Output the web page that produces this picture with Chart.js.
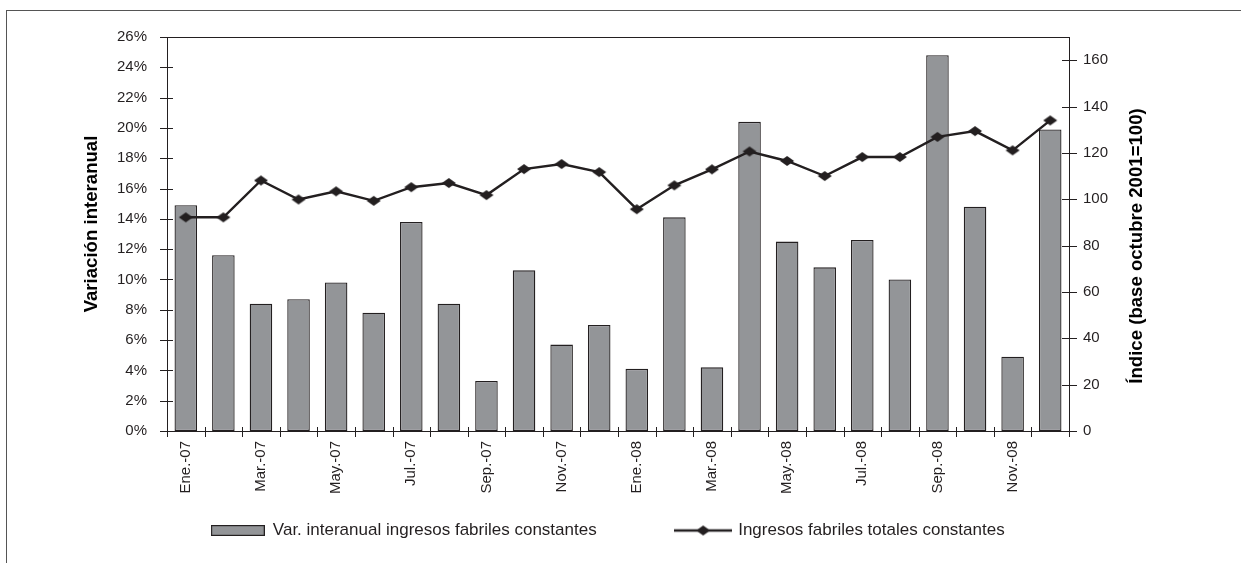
<!DOCTYPE html>
<html>
<head>
<meta charset="utf-8">
<script src="https://cdn.jsdelivr.net/npm/chart.js@4.4.1/dist/chart.umd.min.js"></script>
<style>
  html, body { margin: 0; padding: 0; background: #fff; }
  #frame { position: absolute; left: 6px; top: 10px; right: 0; bottom: 0; border-top: 1px solid #555; border-left: 1px solid #555; }
  #chart { position: absolute; left: 0; top: 0; }
</style>
</head>
<body>
<div id="frame"></div>
<canvas id="chart" width="1241" height="563"></canvas>
<script>
const months = ['Ene.', 'Feb.', 'Mar.', 'Abr.', 'May.', 'Jun.', 'Jul.', 'Ago.', 'Sep.', 'Oct.', 'Nov.', 'Dic.'];
const labels = [...months.map(m => m + '-07'), ...months.map(m => m + '-08')];

// variación interanual (%), eje izquierdo
const varInteranual = [14.9, 11.6, 8.4, 8.7, 9.8, 7.8, 13.8, 8.4, 3.3, 10.6, 5.7, 7.0,
                       4.1, 14.1, 4.2, 20.4, 12.5, 10.8, 12.6, 10.0, 24.8, 14.8, 4.9, 19.9];
// índice base octubre 2001 = 100, eje derecho
const indice = [92.2, 92.2, 108.1, 99.9, 103.4, 99.3, 105.2, 107.0, 101.8, 113.0, 115.2, 111.7,
                95.7, 106.0, 112.9, 120.6, 116.5, 110.0, 118.2, 118.2, 126.9, 129.4, 121.1, 134.0];

const leftTicks = { min: 0, max: 26, step: 2 };
const rightTicks = { min: 0, max: 170, step: 20, lastShown: 160 };

const leftTitle = 'Variación interanual';
const rightTitle = 'Índice (base octubre 2001=100)';
const barLabel = 'Var. interanual ingresos fabriles constantes';
const lineLabel = 'Ingresos fabriles totales constantes';

const ink = '#231f20';
const barGray = '#939598';
const fontFamily = '"Liberation Sans", Arial, sans-serif';

function makeCanvas(w, h, draw) {
  const c = document.createElement('canvas');
  c.width = w; c.height = h;
  draw(c.getContext('2d'), w, h);
  return c;
}

function diamond(ctx, cx, cy, hw, hh) {
  ctx.beginPath();
  ctx.moveTo(cx - hw, cy);
  ctx.lineTo(cx, cy - hh);
  ctx.lineTo(cx + hw, cy);
  ctx.lineTo(cx, cy + hh);
  ctx.closePath();
  ctx.fill();
}

const marker = makeCanvas(16, 12, (ctx, w, h) => {
  ctx.fillStyle = ink;
  diamond(ctx, w / 2, h / 2, 7, 5);
});

const barSwatch = makeCanvas(54, 11, (ctx, w, h) => {
  ctx.fillStyle = barGray;
  ctx.strokeStyle = ink;
  ctx.lineWidth = 1.2;
  ctx.fillRect(0.6, 0.6, w - 1.2, h - 1.2);
  ctx.strokeRect(0.6, 0.6, w - 1.2, h - 1.2);
});

const lineSwatch = makeCanvas(58, 12, (ctx, w, h) => {
  ctx.strokeStyle = ink;
  ctx.lineWidth = 2.4;
  ctx.beginPath();
  ctx.moveTo(0, h / 2);
  ctx.lineTo(w, h / 2);
  ctx.stroke();
  ctx.fillStyle = ink;
  diamond(ctx, w / 2, h / 2, 7, 5);
});

function drawVertical(ctx, text, x, y) {
  ctx.save();
  ctx.translate(x, y);
  ctx.rotate(-Math.PI / 2);
  ctx.fillText(text, 0, 0);
  ctx.restore();
}

const axisMarks = {
  id: 'axisMarks',
  afterLayout(chart) {
    // dejar espacio a las etiquetas giradas del eje x (el recorte usa el alto del eje)
    chart.scales.x.bottom += 80;
  },
  afterDraw(chart) {
    const { ctx, chartArea: a, scales } = chart;
    ctx.save();
    ctx.strokeStyle = ink;
    ctx.lineWidth = 1;
    ctx.beginPath();
    ctx.moveTo(a.left, Math.round(a.top) + 0.5);
    ctx.lineTo(a.right, Math.round(a.top) + 0.5);
    scales.y.ticks.forEach((t, i) => {
      const y = Math.round(scales.y.getPixelForTick(i)) + 0.5;
      ctx.moveTo(a.left - 7, y);
      ctx.lineTo(a.left + 6, y);
    });
    scales.y1.ticks.forEach((t, i) => {
      const y = Math.round(scales.y1.getPixelForTick(i)) + 0.5;
      ctx.moveTo(a.right - 7, y);
      ctx.lineTo(a.right + 8, y);
    });
    for (let i = 0; i <= labels.length; i++) {
      const x = Math.round(scales.x.getPixelForValue(i - 0.5)) + 0.5;
      ctx.moveTo(x, a.bottom - 4);
      ctx.lineTo(x, a.bottom + 6);
    }
    ctx.stroke();

    ctx.fillStyle = '#000';
    ctx.font = 'bold 18.6px ' + fontFamily;
    ctx.textAlign = 'center';
    ctx.textBaseline = 'middle';
    const mid = (a.top + a.bottom) / 2;
    drawVertical(ctx, leftTitle, a.left - 75, mid - 10);
    drawVertical(ctx, rightTitle, a.right + 68, mid + 12);
    ctx.restore();
  }
};

new Chart(document.getElementById('chart'), {
  data: {
    labels: labels,
    datasets: [
      {
        type: 'bar',
        label: barLabel,
        data: varInteranual,
        yAxisID: 'y',
        backgroundColor: barGray,
        borderColor: ink,
        borderWidth: 1.3,
        borderSkipped: false,
        barPercentage: 0.6,
        categoryPercentage: 1,
        order: 2
      },
      {
        type: 'line',
        label: lineLabel,
        data: indice,
        yAxisID: 'y1',
        borderColor: ink,
        borderWidth: 2.4,
        pointStyle: marker,
        pointRadius: 6,
        pointHoverRadius: 6,
        tension: 0,
        order: 1
      }
    ]
  },
  options: {
    responsive: false,
    animation: false,
    devicePixelRatio: 1,
    layout: { padding: { left: 0, right: 25, top: 37, bottom: 14 } },
    plugins: {
      tooltip: { enabled: false },
      legend: {
        position: 'bottom',
        labels: {
          usePointStyle: true,
          pointStyleWidth: 53,
          padding: 80,
          color: ink,
          font: { family: fontFamily, size: 17 },
          generateLabels: chart => chart.data.datasets.map((ds, i) => ({
            text: ds.label,
            datasetIndex: i,
            pointStyle: i === 0 ? barSwatch : lineSwatch,
            fillStyle: 'transparent',
            strokeStyle: 'transparent',
            lineWidth: 0,
            hidden: false,
            fontColor: ink
          }))
        }
      }
    },
    scales: {
      x: {
        grid: { display: false, drawTicks: false },
        border: { display: true, color: ink, width: 1 },
        ticks: {
          autoSkip: false,
          minRotation: 90,
          maxRotation: 90,
          padding: 10,
          color: ink,
          font: { family: fontFamily, size: 15 },
          callback: (v, i) => (i % 2 === 0 ? labels[i] : '')
        },
        afterFit: s => { s.height = 11; }
      },
      y: {
        position: 'left',
        min: leftTicks.min,
        max: leftTicks.max,
        grid: { display: false, drawTicks: false },
        border: { display: true, color: ink, width: 1 },
        ticks: {
          stepSize: leftTicks.step,
          padding: 20,
          color: ink,
          font: { family: fontFamily, size: 15 },
          callback: v => v + '%'
        },
        afterFit: s => { s.width = 167; }
      },
      y1: {
        position: 'right',
        min: rightTicks.min,
        max: rightTicks.max,
        grid: { display: false, drawTicks: false },
        border: { display: true, color: ink, width: 1 },
        ticks: {
          stepSize: rightTicks.step,
          padding: 14,
          color: ink,
          font: { family: fontFamily, size: 15 }
        },
        afterBuildTicks: s => { s.ticks = s.ticks.filter(t => t.value <= rightTicks.lastShown); },
        afterFit: s => { s.width = 1241 - 25 - 1069; }
      }
    }
  },
  plugins: [axisMarks]
});
</script>
</body>
</html>
